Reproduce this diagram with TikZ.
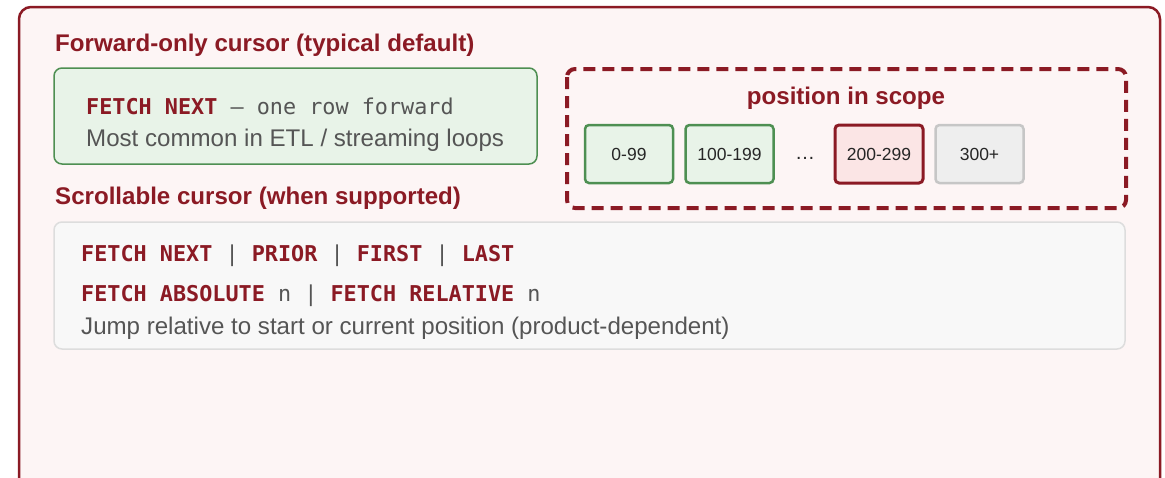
\documentclass[tikz,border=0pt]{standalone}
\usepackage{fontspec}
\setmainfont{Liberation Sans}
\setmonofont{DejaVu Sans Mono}
\definecolor{dred}{HTML}{8B1A24}
\definecolor{outerfill}{HTML}{FDF5F5}
\definecolor{gfill}{HTML}{E8F3E8}
\definecolor{gdraw}{HTML}{4E8F52}
\definecolor{rfill}{HTML}{FBE5E5}
\definecolor{grfill}{HTML}{EEEEEE}
\definecolor{grdraw}{HTML}{C6C6C6}
\definecolor{pfill}{HTML}{F8F8F8}
\definecolor{pdraw}{HTML}{DDDDDD}
\definecolor{txt}{HTML}{555555}
\begin{document}
\begin{tikzpicture}[x=1pt,y=-1pt,
  title/.style={font=\fontsize{24.1}{28}\selectfont\bfseries, text=dred, anchor=west, inner sep=0pt},
  body/.style={font=\fontsize{24.1}{28}\selectfont, text=txt, anchor=west, inner sep=0pt},
  code/.style={font=\fontsize{21.8}{26}\selectfont\ttfamily, text=txt, anchor=west, inner sep=0pt},
  seg/.style={rounded corners=4pt, line width=2.5pt, minimum width=88pt, minimum height=58pt, font=\fontsize{17.5}{20}\selectfont, text=black!85, inner sep=0pt}]
\useasboundingbox (0,0) rectangle (1165,477);
\fill[white] (0,0) rectangle (1165,477);
% outer panel
\draw[dred, line width=2.5pt, fill=outerfill, rounded corners=12pt] (19,7) rectangle (1160,520);
% forward-only
\node[title] (t1) at (55,45.5) {Forward-only cursor (typical default)};
\draw[gdraw, line width=1.5pt, fill=gfill, rounded corners=8pt] (54,68) rectangle (537,164);
\node[code] (l1) at (86,106.5) {\textcolor{dred}{\bfseries FETCH NEXT} – one row forward};
\node[body] (l2) at (86,140.5) {Most common in ETL / streaming loops};
% scope box
\draw[dred, line width=4pt, dash pattern=on 12pt off 7pt, rounded corners=8pt] (567,69) rectangle (1126,208);
\node[title, anchor=center] (ps) at (846,98) {position in scope};
\node[seg, draw=gdraw, fill=gfill] (s1) at (629,154) {0-99};
\node[seg, draw=gdraw, fill=gfill] (s2) at (729.5,154) {100-199};
\node[font=\fontsize{20}{22}\selectfont, text=black!85] (dots) at (805,158) {…};
\node[seg, draw=dred, fill=rfill, line width=3pt] (s3) at (879,154) {200-299};
\node[seg, draw=grdraw, fill=grfill] (s4) at (979.5,154) {300+};
% scrollable
\node[title] (t2) at (55,198.5) {Scrollable cursor (when supported)};
\draw[pdraw, line width=1.5pt, fill=pfill, rounded corners=8pt] (54,222) rectangle (1125,349);
\node[code] (c1) at (81,255.5) {\textcolor{dred}{\bfseries FETCH NEXT} | \textcolor{dred}{\bfseries PRIOR} | \textcolor{dred}{\bfseries FIRST} | \textcolor{dred}{\bfseries LAST}};
\node[code] (c2) at (81,295.5) {\textcolor{dred}{\bfseries FETCH ABSOLUTE} n | \textcolor{dred}{\bfseries FETCH RELATIVE} n};
\node[body] (c3) at (81,328.5) {Jump relative to start or current position (product-dependent)};
\end{tikzpicture}
\end{document}
